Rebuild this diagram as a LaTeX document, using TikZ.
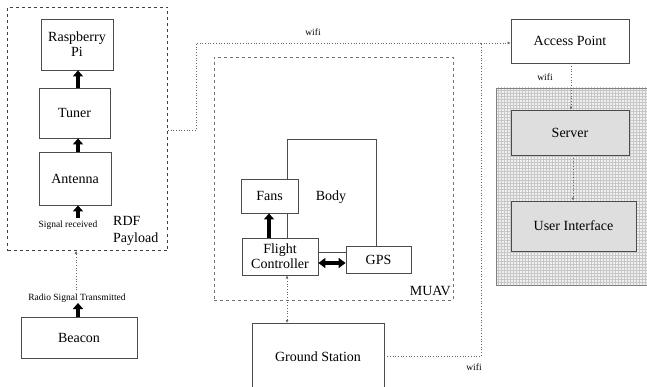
\documentclass[tikz,border=0pt]{standalone}
\usepackage{fontspec}
\setmainfont{Liberation Serif}
\usetikzlibrary{arrows.meta,patterns}
\begin{document}
\begin{tikzpicture}[x=1pt,y=-1pt,
  box/.style={draw=black!70,line width=0.8pt,fill=white,inner sep=0pt,align=center,font=\fontsize{14}{15}\selectfont},
  graybox/.style={box,fill=black!13},
  group/.style={draw=black!75,dashed,line width=0.7pt,inner sep=0pt},
  lgroup/.style={draw=black!55,dashed,line width=0.6pt,inner sep=0pt},
  conn/.style={draw=black!60,dotted,line width=0.7pt},
  tip/.style={-{Latex[length=3pt,width=3pt]}},
  btip/.style={{Latex[length=3pt,width=3pt]}-{Latex[length=3pt,width=3pt]}},
  thick arr/.style={line width=4pt,-{Triangle[length=6pt,width=10pt]}},
  thick darr/.style={line width=3.5pt,{Triangle[length=7pt,width=10pt]}-{Triangle[length=7pt,width=10pt]}},
  small/.style={font=\fontsize{9.5}{11}\selectfont,inner sep=0pt},
  lbl/.style={font=\fontsize{14}{17}\selectfont,inner sep=0pt,align=left}
]
\useasboundingbox (0,0) rectangle (647,387);
\clip (0,0) rectangle (647,387);

% RDF payload group
\node[group,minimum width=160pt,minimum height=243pt] (rdf) at (87.5,129) {};
\node[box,minimum width=72pt,minimum height=51pt] (pi) at (77,44.5) {Raspberry\\Pi};
\node[box,minimum width=71pt,minimum height=50pt] (tuner) at (74.5,113) {Tuner};
\node[box,minimum width=72pt,minimum height=53pt] (ant) at (75,178.5) {Antenna};
\node[small] (sigrx) at (68,225) {Signal received};
\node[lbl,anchor=north west] (rdflbl) at (113,216) {RDF\\Payload};
\draw[thick arr] (tuner.north -| 78,0) -- (pi.south -| 78,0);
\draw[thick arr] (ant.north -| 78,0) -- (tuner.south -| 78,0);
\coordinate (sigtop) at (78,218);
\draw[thick arr] (sigtop) -- (ant.south -| 78,0);

% Beacon
\node[box,minimum width=116pt,minimum height=41pt] (beacon) at (79,337.5) {Beacon};
\node[small] (radio) at (77,298) {Radio Signal Transmitted};
\coordinate (radtop) at (78,303);
\draw[thick arr] (beacon.north -| 78,0) -- (radtop);
\coordinate (dtop) at (76,290);
\draw[conn,tip] (dtop) -- (rdf.south -| 76,0);

% MUAV group
\node[lgroup,minimum width=239pt,minimum height=243pt] (muav) at (333.5,178.5) {};
\node[lbl,anchor=south east] (muavlbl) at (451,296) {MUAV};
\node[draw=black!70,line width=0.8pt,minimum width=89pt,minimum height=113pt,inner sep=0pt] (body) at (331.5,195.5) {};
\node[lbl] (bodylbl) at (331,197) {Body};
\node[box,minimum width=57pt,minimum height=34pt] (fans) at (269.5,196) {Fans};
\node[box,minimum width=76pt,minimum height=37pt] (fc) at (280,256.5) {Flight\\Controller};
\node[box,minimum width=65pt,minimum height=27pt] (gps) at (378.5,259.5) {GPS};
\draw[thick arr] (fc.north -| 269,0) -- (fans.south -| 269,0);
\draw[thick darr] (fc.east |- 0,263) -- (gps.west |- 0,263);

% Ground station
\node[box,minimum width=132pt,minimum height=90pt,anchor=north] (gs) at (318,323) {};
\node[box,draw=none,fill=none] (gslbl) at (318,357) {Ground Station};
\draw[conn,btip] (fc.south -| 287,0) -- (gs.north -| 287,0);

% Right side
\fill[black!6] (496,88) rectangle (647,285);
\fill[pattern=grid,pattern color=black!22] (496,88) rectangle (647,285);
\draw[black!50,line width=0.6pt] (647,88) -- (496,88) -- (496,285) -- (647,285);
\node[box,minimum width=118pt,minimum height=44pt] (ap) at (570,41) {Access Point};
\node[graybox,minimum width=118pt,minimum height=45pt] (server) at (570,132.5) {Server};
\node[graybox,minimum width=125pt,minimum height=50pt] (ui) at (573.5,226) {User Interface};
\draw[conn,tip] (ap.south -| 571,0) -- (server.north -| 571,0);
\draw[conn,tip] (server.south -| 573,0) -- (ui.north -| 573,0);
\node[small] (wifi2) at (545,77) {wifi};

% wifi links
\coordinate (c1) at (196,130);
\coordinate (c2) at (196,43);
\coordinate (j) at (481,43);
\draw[conn] (rdf.east |- c1) -- (c1) -- (c2) -- (j);
\draw[conn,tip] (j) -- (ap.west |- j);
\node[small] (wifi1) at (313,32) {wifi};
\coordinate (c3) at (481,356);
\draw[conn] (gs.east |- c3) -- (c3) -- (j);
\node[small] (wifi3) at (474,367) {wifi};
\end{tikzpicture}
\end{document}
